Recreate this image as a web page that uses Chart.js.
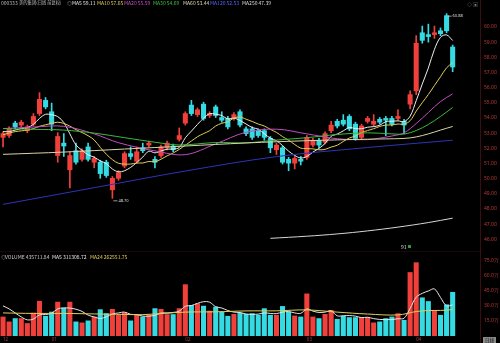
<!DOCTYPE html>
<html>
<head>
<meta charset="utf-8">
<title>000333 日线</title>
<script src="https://cdn.jsdelivr.net/npm/chart.js@4.4.1/dist/chart.umd.min.js"></script>
<style>
  html, body { margin: 0; padding: 0; background: #000; }
  body { width: 500px; height: 343px; overflow: hidden; position: relative; font-family: "Noto Sans CJK SC", "Noto Sans", sans-serif; }
  canvas { position: absolute; left: 0; }
  #price { top: 0; }
  #volume { top: 252px; }
  .t { position: absolute; font-size: 5px; line-height: 6px; white-space: nowrap; }
  .name { font-size: 4.3px; line-height: 5px; }
  #axisLine { position: absolute; left: 480px; top: 0; width: 1px; height: 343px; background: #3d0d0d; }
  #sep { position: absolute; left: 0; top: 251px; width: 480px; height: 1px; background: #1a0707; }
  #dayBox { position: absolute; left: 483px; top: 337px; width: 13px; height: 6px; background: #8a8a8a; color: #111; font-size: 4.5px; line-height: 6px; text-align: center; }
  #mark { position: absolute; left: 408px; top: 245px; width: 3px; height: 3px; background: #2d9a3a; }
</style>
</head>
<body>
<canvas id="price" width="500" height="252"></canvas>
<canvas id="volume" width="500" height="91"></canvas>
<div id="axisLine"></div>
<div id="sep"></div>

<span class="t" style="left:1px;top:0;color:#bdbdbd">000333</span>
<span class="t name" style="left:19px;top:-0.5px;color:#bdbdbd">美的集团(日线 前复权)</span>
<span class="t" style="left:67px;top:0;color:#999">◎</span>
<span class="t" id="hMA5" style="left:72px;top:0;color:#e8e8e8"></span>
<span class="t" id="hMA10" style="left:97px;top:0;color:#e2cf58"></span>
<span class="t" id="hMA20" style="left:124px;top:0;color:#d24ed2"></span>
<span class="t" id="hMA30" style="left:153px;top:0;color:#3fc43f"></span>
<span class="t" id="hMA60" style="left:183px;top:0;color:#e0dcb0"></span>
<span class="t" id="hMA120" style="left:210px;top:0;color:#5566ff"></span>
<span class="t" id="hMA250" style="left:242px;top:0;color:#dddddd"></span>
<span class="t" style="left:467px;top:1px;color:#888">◇ ▣</span>

<span class="t" style="left:1px;top:254px;color:#999">◎</span>
<span class="t" id="hVol" style="left:5px;top:254px;color:#cccccc"></span>
<span class="t" id="hVMA5" style="left:52px;top:254px;color:#e8e8e8"></span>
<span class="t" id="hVMA24" style="left:90px;top:254px;color:#e2cf58"></span>

<span class="t" style="left:401px;top:244px;color:#dddddd">91</span>
<div id="mark"></div>
<div id="dayBox">日线</div>

<script>
// --- OHLC (前复权) ---
const opens = [52.72, 52.84, 53.66, 53.53, 53.16, 53.59, 54.29, 55.16, 54.41, 51.52,
               52.34, 50.58, 51.84, 51.27, 52.09, 51.08, 51.08, 51.08, 49.26, 50.02,
               50.83, 51.65, 51.15, 52.03, 52.21, 51.27, 51.52, 52.03, 52.15, 52.59,
               53.66, 54.85, 54.22, 54.91, 54.16, 54.73, 54.03, 53.97, 53.97, 54.41,
               53.28, 53.28, 53.16, 53.16, 52.65, 51.90, 52.03, 51.27, 51.02, 51.27,
               51.40, 52.21, 52.53, 52.40, 53.16, 53.78, 53.85, 54.10, 53.59, 52.72,
               53.78, 53.59, 53.91, 53.97, 53.97, 53.97, 53.78, 54.91, 55.79, 59.62,
               59.50, 59.50, 59.75, 60.75, 58.68];
const highs = [53.09, 53.41, 53.78, 53.85, 53.53, 54.29, 55.67, 55.35, 54.98, 53.03,
               52.97, 51.77, 52.34, 51.96, 52.34, 51.46, 51.21, 51.21, 50.14, 50.52,
               51.77, 52.09, 52.09, 52.34, 52.47, 51.46, 52.21, 52.47, 52.28, 53.34,
               54.41, 55.16, 54.66, 55.04, 54.41, 54.85, 54.41, 54.10, 54.35, 54.54,
               53.41, 53.41, 53.28, 53.28, 52.78, 52.34, 52.15, 51.40, 51.46, 51.46,
               52.84, 52.65, 52.65, 53.09, 53.78, 53.91, 54.22, 54.22, 53.72, 53.59,
               54.10, 54.22, 54.03, 54.10, 54.10, 54.54, 53.91, 55.79, 59.43, 60.06,
               60.19, 60.06, 59.94, 60.88, 58.81];
const lows = [52.09, 52.72, 53.28, 53.41, 53.03, 53.47, 54.16, 54.60, 53.16, 51.08,
              51.46, 49.39, 50.96, 51.15, 51.15, 50.71, 50.02, 50.08, 48.70, 49.89,
              50.71, 51.27, 51.02, 51.71, 52.09, 50.71, 51.40, 51.90, 51.77, 52.47,
              53.53, 54.16, 54.10, 53.85, 54.03, 54.03, 53.72, 53.28, 53.85, 53.41,
              52.84, 52.59, 52.72, 52.53, 51.71, 51.59, 50.96, 50.52, 50.64, 50.90,
              51.27, 52.09, 52.03, 52.28, 53.03, 53.34, 53.47, 53.16, 52.53, 52.59,
              53.66, 53.47, 53.59, 52.84, 53.47, 53.85, 52.97, 54.60, 55.54, 58.93,
              59.00, 59.25, 59.43, 59.62, 57.05];
const closes = [52.97, 53.28, 53.41, 53.72, 53.41, 54.10, 55.23, 54.73, 53.59, 52.78,
                52.15, 51.52, 51.08, 51.84, 51.27, 51.33, 50.33, 50.20, 50.02, 50.39,
                51.65, 51.46, 51.77, 51.84, 52.34, 51.08, 52.09, 52.34, 51.90, 52.84,
                54.29, 54.29, 54.54, 53.97, 54.29, 54.16, 53.85, 53.41, 54.22, 53.53,
                52.97, 52.72, 52.84, 52.72, 52.03, 52.21, 51.08, 51.02, 51.33, 51.15,
                52.72, 52.53, 52.21, 52.97, 53.53, 53.47, 53.59, 53.28, 52.65, 53.47,
                53.97, 53.78, 53.72, 53.85, 53.59, 54.10, 53.53, 55.54, 58.93, 59.12,
                59.37, 59.62, 59.56, 59.75, 57.36];

// --- moving averages ---
const ma5 = [53.10, 53.10, 53.20, 53.30, 53.36, 53.58, 53.97, 54.24, 54.21, 54.09,
             53.70, 52.95, 52.22, 51.87, 51.57, 51.41, 51.17, 50.99, 50.63, 50.45,
             50.52, 50.74, 51.06, 51.42, 51.81, 51.70, 51.82, 51.94, 51.95, 52.05,
             52.69, 53.13, 53.57, 53.99, 54.28, 54.25, 54.16, 53.94, 53.99, 53.83,
             53.60, 53.37, 53.26, 52.96, 52.66, 52.50, 52.18, 51.81, 51.53, 51.36,
             51.46, 51.75, 51.99, 52.32, 52.79, 52.94, 53.15, 53.37, 53.30, 53.29,
             53.39, 53.43, 53.52, 53.76, 53.78, 53.81, 53.76, 54.12, 55.14, 56.24,
             57.30, 58.52, 59.32, 59.48, 59.11];
const ma10 = [52.90, 53.00, 53.10, 53.15, 53.20, 53.30, 53.45, 53.55, 53.65, 53.72,
              53.64, 53.46, 53.23, 53.04, 52.83, 52.55, 52.06, 51.61, 51.25, 51.01,
              50.96, 50.96, 51.03, 51.03, 51.13, 51.11, 51.28, 51.50, 51.69, 51.93,
              52.20, 52.48, 52.76, 52.97, 53.16, 53.47, 53.65, 53.75, 53.99, 54.06,
              53.92, 53.77, 53.60, 53.47, 53.25, 53.05, 52.77, 52.53, 52.25, 52.01,
              51.98, 51.96, 51.90, 51.93, 52.08, 52.20, 52.45, 52.68, 52.81, 53.04,
              53.17, 53.29, 53.44, 53.53, 53.54, 53.60, 53.59, 53.82, 54.45, 55.01,
              55.55, 56.14, 56.72, 57.31, 57.65];
const ma20Idx = [0, 5, 10, 15, 19, 25, 30, 35, 40, 45, 50, 55, 60, 62, 64, 66, 68, 70, 72, 74];
const ma20Val = [53.30, 53.40, 53.45, 52.95, 52.37, 51.83, 51.58, 52.29, 53.06, 53.26,
                 52.95, 52.63, 52.57, 52.67, 52.81, 53.02, 53.63, 54.36, 55.08, 55.59];
const ma30Idx = [0, 5, 10, 15, 20, 25, 29, 35, 40, 45, 50, 55, 60, 64, 66, 68, 70, 72, 74];
const ma30Val = [53.30, 53.25, 53.20, 53.00, 52.70, 52.40, 52.22, 52.38, 52.36, 52.54,
                 52.70, 52.91, 53.02, 52.95, 52.94, 53.17, 53.57, 54.10, 54.69];
const ma60Idx = [0, 10, 20, 30, 40, 50, 60, 66, 68, 70, 72, 74];
const ma60Val = [51.60, 51.75, 51.95, 52.15, 52.35, 52.50, 52.60, 52.65, 52.75, 52.95, 53.20, 53.44];
const ma120Idx = [0, 15, 30, 45, 60, 74];
const ma120Val = [48.30, 49.40, 50.50, 51.45, 52.05, 52.53];
const ma250Idx = [44, 50, 55, 60, 65, 70, 74];
const ma250Val = [46.06, 46.20, 46.35, 46.55, 46.80, 47.10, 47.39];

// --- volume ---
const volumes = [190000, 141000, 174000, 174000, 125000, 229000, 347000, 197000, 239000, 338000,
                 278000, 338000, 141000, 131000, 151000, 190000, 263000, 223000, 266000, 207000,
                 233000, 151000, 207000, 190000, 207000, 273000, 266000, 214000, 214000, 273000,
                 512000, 305000, 322000, 298000, 249000, 288000, 239000, 197000, 216000, 229000,
                 216000, 223000, 207000, 273000, 207000, 207000, 295000, 239000, 200000, 190000,
                 420000, 190000, 174000, 216000, 256000, 167000, 197000, 184000, 184000, 184000,
                 184000, 131000, 141000, 174000, 190000, 223000, 157000, 633000, 731000, 381000,
                 344000, 256000, 207000, 312000, 435711.84];
const volMa5 = [300000, 270000, 230000, 190000, 161000, 169000, 210000, 214000, 227000, 270000,
                280000, 278000, 267000, 245000, 208000, 190000, 175000, 192000, 219000, 230000,
                238000, 216000, 213000, 198000, 198000, 206000, 229000, 230000, 235000, 248000,
                296000, 304000, 325000, 342000, 337000, 292000, 279000, 254000, 238000, 234000,
                219000, 216000, 218000, 230000, 225000, 223000, 238000, 244000, 230000, 226000,
                269000, 248000, 235000, 238000, 251000, 201000, 202000, 204000, 198000, 183000,
                187000, 173000, 165000, 163000, 164000, 172000, 177000, 275000, 387000, 425000,
                449000, 469000, 384000, 300000, 311308.72];
const volMa24Idx = [0, 5, 10, 15, 20, 23, 30, 35, 40, 45, 50, 55, 60, 65, 68, 70, 72, 74];
const volMa24Val = [230000, 225000, 225000, 220000, 215000, 213000, 238000, 241000, 250000,
                    251000, 260000, 238000, 219000, 210000, 244000, 254000, 255000, 262551.75];

// --- axes ---
const slotCount = 79;   // 75 sessions + blank room before the axis
const priceTicks = [60, 59, 58, 57, 56, 55, 54, 53, 52, 51, 50, 49, 48, 47, 46];
const volTicks = [750000, 600000, 450000, 300000, 150000];
const monthIdx = [0, 8, 30, 50, 68];
const monthText = ['12', '01', '02', '03', '04'];

const RED = '#f0403c';
const CYAN = '#35dbe3';
const AXIS_TXT = '#b83a3a';

const slots = Array.from({ length: slotCount }, (_, i) => String(i));
const candleColors = closes.map((c, i) => (c >= opens[i] ? RED : CYAN));

function sparse(idx, vals) {
    const out = new Array(closes.length).fill(null);
    idx.forEach((k, j) => { out[k] = vals[j]; });
    return out;
}

function maLine(label, data, color, width) {
    return {
        type: 'line', label, data,
        borderColor: color, borderWidth: width || 1,
        pointRadius: 0, spanGaps: true, tension: 0.35,
        order: 0
    };
}

// header values
const last = a => a[a.length - 1];
document.getElementById('hMA5').textContent = 'MA5 ' + last(ma5).toFixed(2);
document.getElementById('hMA10').textContent = 'MA10 ' + last(ma10).toFixed(2);
document.getElementById('hMA20').textContent = 'MA20 ' + last(ma20Val).toFixed(2);
document.getElementById('hMA30').textContent = 'MA30 ' + last(ma30Val).toFixed(2);
document.getElementById('hMA60').textContent = 'MA60 ' + last(ma60Val).toFixed(2);
document.getElementById('hMA120').textContent = 'MA120 ' + last(ma120Val).toFixed(2);
document.getElementById('hMA250').textContent = 'MA250 ' + last(ma250Val).toFixed(2);
document.getElementById('hVol').textContent = 'VOLUME ' + last(volumes).toFixed(2);
document.getElementById('hVMA5').textContent = 'MA5 ' + last(volMa5).toFixed(2);
document.getElementById('hVMA24').textContent = 'MA24 ' + last(volMa24Val).toFixed(2);

// marks the highest high and the lowest low
const extremaLabels = {
    id: 'extremaLabels',
    afterDatasetsDraw(chart) {
        const { ctx } = chart;
        const x = chart.scales.x, y = chart.scales.y;
        const hiIdx = highs.indexOf(Math.max(...highs));
        const loIdx = lows.indexOf(Math.min(...lows));
        ctx.save();
        ctx.font = '4px "Noto Sans"';
        ctx.fillStyle = '#dddddd';
        ctx.strokeStyle = '#dddddd';
        ctx.lineWidth = 0.7;
        ctx.textBaseline = 'middle';
        [[hiIdx, highs[hiIdx]], [loIdx, lows[loIdx]]].forEach(([i, v]) => {
            const px = x.getPixelForValue(i);
            const py = y.getPixelForValue(v) + 2.5;
            ctx.beginPath();
            ctx.moveTo(px + 1, py);
            ctx.lineTo(px + 5, py);
            ctx.stroke();
            ctx.fillText(v.toFixed(2), px + 6, py);
        });
        ctx.restore();
    }
};

const rightAxis = (min, max, ticks, fmt) => ({
    position: 'right', min, max,
    grid: { display: false, drawTicks: false },
    border: { display: false },
    afterBuildTicks: s => { s.ticks = ticks.map(v => ({ value: v })); },
    afterFit: s => { s.width = 20; },
    ticks: { color: AXIS_TXT, font: { size: 5, family: 'Noto Sans' }, padding: 4, callback: fmt }
});

new Chart(document.getElementById('price'), {
    type: 'bar',
    data: {
        labels: slots,
        datasets: [
            maLine('MA250', sparse(ma250Idx, ma250Val), '#d6d6d6'),
            maLine('MA120', sparse(ma120Idx, ma120Val), '#2e34b8'),
            maLine('MA60', sparse(ma60Idx, ma60Val), '#d8d4a6'),
            maLine('MA30', sparse(ma30Idx, ma30Val), '#3fb83f'),
            maLine('MA20', sparse(ma20Idx, ma20Val), '#c24cc2'),
            maLine('MA10', ma10, '#e2cf58'),
            maLine('MA5', ma5, '#eeeeee'),
            {
                label: 'wick', data: lows.map((l, i) => [l, highs[i]]),
                backgroundColor: candleColors, barThickness: 1, grouped: false, order: 3
            },
            {
                label: 'body', data: opens.map((o, i) => [o, closes[i]]),
                backgroundColor: candleColors, barThickness: 4.4, grouped: false, order: 2
            }
        ]
    },
    options: {
        responsive: false,
        animation: false,
        devicePixelRatio: 1,
        layout: { padding: { left: 0, right: 0, top: 0, bottom: 2 } },
        plugins: { legend: { display: false }, tooltip: { enabled: false } },
        scales: {
            x: { display: false, offset: true, grid: { display: false } },
            y: rightAxis(45.62, 61.32, priceTicks, v => Number(v).toFixed(2))
        }
    },
    plugins: [extremaLabels]
});

new Chart(document.getElementById('volume'), {
    type: 'bar',
    data: {
        labels: slots,
        datasets: [
            maLine('VMA24', sparse(volMa24Idx, volMa24Val), '#e2cf58'),
            maLine('VMA5', volMa5, '#e6e6e6'),
            {
                label: 'VOLUME', data: volumes,
                backgroundColor: candleColors, barThickness: 4.4, grouped: false, order: 2
            }
        ]
    },
    options: {
        responsive: false,
        animation: false,
        devicePixelRatio: 1,
        layout: { padding: { left: 0, right: 0, top: 6, bottom: 0 } },
        plugins: { legend: { display: false }, tooltip: { enabled: false } },
        scales: {
            x: {
                offset: true,
                grid: { display: false, drawTicks: false },
                border: { display: false },
                afterFit: s => { s.height = 7; s.paddingLeft = 0; s.paddingRight = 0; },
                ticks: {
                    autoSkip: false, maxRotation: 0, padding: 1, align: 'start',
                    color: AXIS_TXT, font: { size: 4.5, family: 'Noto Sans' },
                    callback: (v, i) => {
                        const k = monthIdx.indexOf(i);
                        return k >= 0 ? monthText[k] : '';
                    }
                }
            },
            y: rightAxis(0, 767520, volTicks, v => (v / 10000).toFixed(1) + '万')
        }
    }
});
</script>
</body>
</html>
